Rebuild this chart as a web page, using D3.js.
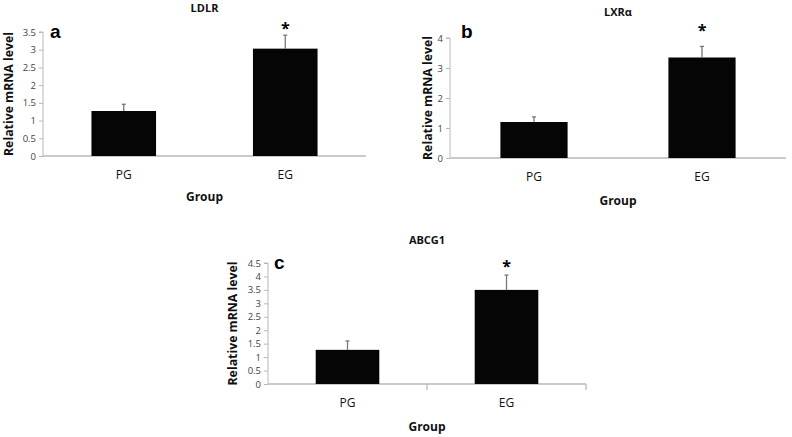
<!DOCTYPE html>
<html><head><meta charset="utf-8">
<script src="https://cdn.jsdelivr.net/npm/d3@7"></script>
<style>body{margin:0;background:#fff}svg{display:block}</style>
</head><body>
<svg id="c" width="792" height="437"></svg>
<script>
const groups = ["PG", "EG"];
const ldlrMean = [1.27, 3.03];
const ldlrErr = [0.19, 0.38];
const lxrMean = [1.2, 3.35];
const lxrErr = [0.17, 0.37];
const abcgMean = [1.27, 3.5];
const abcgErr = [0.33, 0.55];
const ldlrTicks = [0, 0.5, 1, 1.5, 2, 2.5, 3, 3.5];
const lxrTicks = [0, 1, 2, 3, 4];
const abcgTicks = [0, 0.5, 1, 1.5, 2, 2.5, 3, 3.5, 4, 4.5];

const svg = d3.select("#c");
const font = "'Open Sans', sans-serif";
const fmt = d3.format("~g");

const panels = [
  {title:"LDLR", letter:"a", mean:ldlrMean, err:ldlrErr, ticks:ldlrTicks, max:3.5,
   x0:43, x1:366, y0:156, y1:32, titleY:12, letterX:50, letterY:38,
   ylabX:9, xlabY:179, groupY:201, starOff:1, catTicks:false},
  {title:"LXRα", letter:"b", mean:lxrMean, err:lxrErr, ticks:lxrTicks, max:4,
   x0:450, x1:786, y0:158, y1:38, titleY:16, letterX:461, letterY:38,
   ylabX:428, xlabY:181, groupY:205, starOff:10, catTicks:false},
  {title:"ABCG1", letter:"c", mean:abcgMean, err:abcgErr, ticks:abcgTicks, max:4.5,
   x0:268, x1:586, y0:384, y1:263, titleY:244, letterX:274, letterY:269,
   ylabX:233, xlabY:407, groupY:431, starOff:3, catTicks:true}
];

panels.forEach(p => {
  const g = svg.append("g");
  const x = d3.scaleBand().domain(groups).range([p.x0, p.x1]).paddingInner(0).paddingOuter(0);
  const y = d3.scaleLinear().domain([0, p.max]).range([p.y0, p.y1]);
  const bw = x.bandwidth() * 0.4;
  const cx = d => x(d) + x.bandwidth() / 2;

  // y axis
  const ya = g.append("g").attr("transform", `translate(${p.x0},0)`)
    .call(d3.axisLeft(y).tickValues(p.ticks).tickSize(4).tickPadding(3).tickFormat(fmt));
  ya.select(".domain").attr("stroke", "#b8b8b8").attr("d", `M-4,${p.y1}H0V${p.y0}`);
  ya.selectAll(".tick line").attr("stroke", "#b8b8b8");
  ya.selectAll(".tick text").attr("font-family", font).attr("font-size", 9.5).attr("fill", "#444");

  // x axis line
  g.append("line").attr("x1", p.x0).attr("x2", p.x1).attr("y1", p.y0).attr("y2", p.y0)
    .attr("stroke", "#b8b8b8").attr("stroke-width", 1.3);
  if (p.catTicks) {
    [x("EG"), p.x1].forEach(v => g.append("line").attr("x1", v).attr("x2", v)
      .attr("y1", p.y0).attr("y2", p.y0 + 6).attr("stroke", "#b8b8b8").attr("stroke-width", 1.3));
  }

  // bars
  g.selectAll("rect.bar").data(groups).enter().append("rect")
    .attr("x", d => cx(d) - bw / 2).attr("width", bw)
    .attr("y", (d, i) => y(p.mean[i])).attr("height", (d, i) => p.y0 - y(p.mean[i]))
    .attr("fill", "#050505");

  // error bars
  groups.forEach((d, i) => {
    const top = y(p.mean[i] + p.err[i]);
    g.append("line").attr("x1", cx(d)).attr("x2", cx(d)).attr("y1", y(p.mean[i])).attr("y2", top)
      .attr("stroke", "#777").attr("stroke-width", 1.3);
    g.append("line").attr("x1", cx(d) - 2).attr("x2", cx(d) + 2).attr("y1", top).attr("y2", top)
      .attr("stroke", "#777").attr("stroke-width", 1.3);
  });

  // asterisk
  const eg = groups[1];
  g.append("text").attr("x", cx(eg)).attr("y", y(p.mean[1] + p.err[1]) - p.starOff)
    .attr("text-anchor", "middle").attr("font-family", font).attr("font-weight", "bold")
    .attr("font-size", 16).text("*");

  // category labels
  groups.forEach(d => {
    g.append("text").attr("x", cx(d)).attr("y", p.xlabY).attr("text-anchor", "middle")
      .attr("font-family", font).attr("font-size", 12).attr("fill", "#111").text(d);
  });

  // titles
  g.append("text").attr("x", (p.x0 + p.x1) / 2).attr("y", p.titleY).attr("text-anchor", "middle")
    .attr("font-family", font).attr("font-weight", "bold").attr("font-size", 11).attr("fill", "#111").text(p.title);
  g.append("text").attr("x", p.letterX).attr("y", p.letterY)
    .attr("font-family", "'Liberation Sans', Arial, sans-serif").attr("font-weight", "bold")
    .attr("font-size", 19).attr("fill", "#000").text(p.letter);
  g.append("text").attr("x", (p.x0 + p.x1) / 2).attr("y", p.groupY).attr("text-anchor", "middle")
    .attr("font-family", font).attr("font-weight", "bold").attr("font-size", 12).attr("fill", "#111").text("Group");
  g.append("text").attr("transform", `translate(${p.ylabX},${(p.y0 + p.y1) / 2}) rotate(-90)`)
    .attr("dy", "0.35em").attr("text-anchor", "middle")
    .attr("font-family", font).attr("font-weight", "bold").attr("font-size", 12.3).attr("fill", "#111")
    .text("Relative mRNA level");
});
</script>
</body></html>
